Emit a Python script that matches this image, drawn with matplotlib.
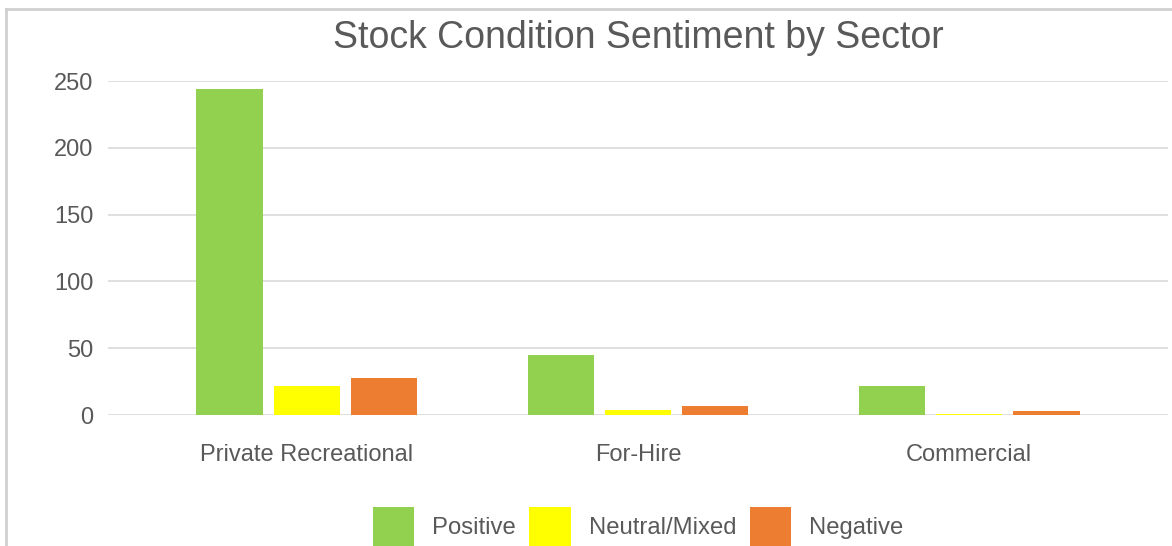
import numpy as np
import matplotlib.pyplot as plt
from matplotlib.patches import Patch
from matplotlib.lines import Line2D

# data
sectors = ["Private Recreational", "For-Hire", "Commercial"]
series = ["Positive", "Neutral/Mixed", "Negative"]
positive = [244, 45, 22]
neutral = [22, 4, 1]
negative = [28, 7, 3]
colors = ["#92D050", "#FFFF00", "#ED7D31"]

plt.rcParams['font.family'] = ['Liberation Sans', 'DejaVu Sans']
text_color = "#595959"

fig = plt.figure(figsize=(11.72, 5.46), dpi=100)
ax = fig.add_axes([108 / 1172, 1 - 415 / 546, 1060 / 1172, 334 / 546])

x = np.arange(len(sectors))
width = 0.2
step = 0.233
for i, (vals, col, name) in enumerate(zip([positive, neutral, negative], colors, series)):
    ax.bar(x + (i - 1) * step, vals, width, color=col, edgecolor="none",
           label=name, zorder=3)

ax.set_xlim(-0.6, 2.6)
ax.set_ylim(0, 250)
ax.set_yticks(range(0, 251, 50))
ax.set_xticks(x)
ax.set_xticklabels(sectors)
ax.grid(axis="y", color="#D9D9D9", linewidth=1.2, zorder=0)
ax.tick_params(axis="both", length=0, labelsize=17, colors=text_color)
ax.tick_params(axis="y", pad=10.5)
ax.tick_params(axis="x", pad=21)
for s in ax.spines.values():
    s.set_visible(False)

fig.text(638 / 1172, 1 - 38 / 546, "Stock Condition Sentiment by Sector",
         ha="center", va="center", fontsize=27, color=text_color)

handles = [Patch(facecolor=c, edgecolor="none") for c in colors]
fig.legend(handles, series, loc="center", bbox_to_anchor=(638 / 1172, 1 - 527 / 546),
           ncol=3, frameon=False, fontsize=17.2, labelcolor=text_color,
           handlelength=1.75, handleheight=2.2, handletextpad=0.75, columnspacing=0.55)

# outer chart frame (left and top edges visible in the crop)
fig.add_artist(Line2D([5.5 / 1172, 5.5 / 1172], [0, 1 - 8.5 / 546],
                      transform=fig.transFigure, color="#D0D0D0", linewidth=2))
fig.add_artist(Line2D([5.5 / 1172, 1], [1 - 8.5 / 546, 1 - 8.5 / 546],
                      transform=fig.transFigure, color="#D0D0D0", linewidth=2))

fig.savefig("out.png", dpi=100)
